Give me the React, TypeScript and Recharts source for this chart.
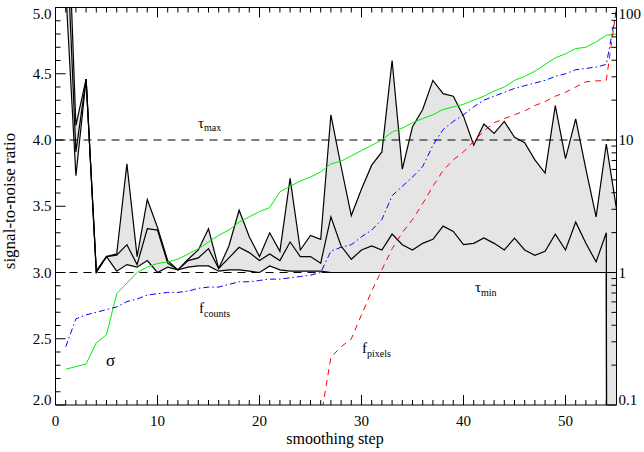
import { ComposedChart, Area, Line, XAxis, YAxis, ReferenceLine } from "recharts";

const FONT = "'Liberation Serif', 'Times New Roman', serif";
const TOP = 7.5;

// smoothing steps
const steps = Array.from({ length: 55 }, (_, i) => i + 1);

// signal-to-noise per step: max, mean, min (left axis)
const snrMax = [
  6.2, 4.11, 4.46, 3.01, 3.12, 3.14, 3.82, 3.12, 3.55, 3.34,
  3.09, 3.02, 3.1, 3.17, 3.33, 3.03, 3.2, 3.47, 3.27, 3.12,
  3.3, 3.16, 3.71, 3.17, 3.28, 3.25, 4.19, 3.8, 3.43, 3.63,
  3.81, 3.91, 4.6, 3.78, 4.1, 4.23, 4.45, 4.35, 4.33, 4.18,
  3.96, 4.12, 4.05, 4.14, 4.02, 3.98, 3.85, 3.75, 4.26, 3.86,
  4.16, 3.78, 3.42, 3.97, 3.48,
];
const snrMean = [
  5.7, 3.91, 4.46, 3.01, 3.12, 3.13, 3.21, 3.06, 3.33, 3.32,
  3.07, 3.02, 3.09, 3.11, 3.18, 3.03, 3.11, 3.19, 3.15, 3.09,
  3.14, 3.09, 3.23, 3.12, 3.12, 3.07, 3.42, 3.2, 3.1, 3.17,
  3.2, 3.17, 3.29, 3.21, 3.17, 3.22, 3.25, 3.35, 3.31, 3.21,
  3.22, 3.26, 3.22, 3.17, 3.26, 3.17, 3.13, 3.16, 3.29, 3.17,
  3.38, 3.22, 3.08, 3.3, -50,
];
const snrMin = [
  5.14, 3.73, 4.46, 3.0, 3.12, 3.01, 3.06, 3.04, 3.09, 3.0,
  3.04, 3.02, 3.04, 3.05, 3.05, 3.01, 3.02, 3.02, 3.01, 3.0,
  3.05, 3.02, 3.01, 3.01, 3.01, 3.01, 3.0, 3.0, 3.0, 3.0,
  3.0, 3.0, 3.0, 3.0, 3.0, 3.0, 3.0, 3.0, 3.0, 3.0,
  3.0, 3.0, 3.0, 3.0, 3.0, 3.0, 3.0, 3.0, 3.0, 3.0,
  3.0, 3.0, 3.0, 3.0, -50,
];

// right axis (log): sigma, f_counts, f_pixels
const sigma = [
  0.186, 0.195, 0.204, 0.295, 0.339, 0.692, 0.832, 1.0, 1.1, 1.17,
  1.2, 1.26, 1.38, 1.51, 1.7, 1.91, 2.09, 2.4, 2.63, 2.88,
  3.09, 4.07, 4.47, 4.9, 5.25, 5.75, 6.61, 6.92, 7.59, 8.32,
  9.12, 10.0, 11.5, 12.3, 13.5, 14.5, 15.5, 17.0, 17.8, 18.6,
  20.0, 21.4, 23.4, 25.1, 28.2, 30.2, 33.1, 37.2, 41.7, 44.7,
  49.0, 50.1, 55.0, 61.7, 63.1,
];
const fCounts = [
  0.275, 0.447, 0.479, 0.501, 0.525, 0.55, 0.603, 0.631, 0.676, 0.692,
  0.708, 0.708, 0.724, 0.759, 0.776, 0.776, 0.813, 0.851, 0.851, 0.871,
  0.891, 0.891, 0.912, 0.933, 0.955, 1.0, 1.45, 1.55, 1.62, 1.86,
  2.09, 2.51, 3.8, 4.47, 5.25, 6.31, 9.12, 12.0, 13.8, 15.5,
  17.8, 20.0, 21.4, 22.9, 24.5, 25.7, 26.9, 28.2, 30.2, 31.6,
  33.9, 34.7, 35.5, 37.2, 95.5,
];
const fPixels = [
  ...Array(25).fill(null),
  0.079, 0.229, 0.275, 0.316, 0.479, 0.724, 1.05, 1.51, 2.0, 2.51,
  3.31, 4.47, 5.89, 7.08, 8.13, 9.77, 11.7, 13.5, 14.5, 15.5,
  16.6, 18.2, 19.5, 21.4, 22.9, 25.1, 27.5, 27.9, 28.2, 100,
];

const xTicks = Array.from({ length: 56 }, (_, i) => i);
const xLabels = [0, 10, 20, 30, 40, 50];
const leftTicks = Array.from({ length: 31 }, (_, i) => (20 + i) / 10);
const leftLabels = [2, 2.5, 3, 3.5, 4, 4.5, 5];
const rightTicks = [
  0.1, 0.2, 0.3, 0.4, 0.5, 0.6, 0.7, 0.8, 0.9,
  1, 2, 3, 4, 5, 6, 7, 8, 9,
  10, 20, 30, 40, 50, 60, 70, 80, 90, 100,
];
const rightLabels = [0.1, 1, 10, 100];

const rows = steps.map((s, i) => ({
  step: s,
  band: [snrMin[i], snrMax[i]],
  max: snrMax[i],
  mean: snrMean[i],
  min: snrMin[i],
  sigma: sigma[i],
  fCounts: fCounts[i],
  fPixels: fPixels[i],
}));

const XTick = (props: any) => {
  const { x, y, payload } = props;
  const major = xLabels.includes(payload.value);
  const len = major ? 10 : 5;
  return (
    <g>
      <line x1={x} y1={y} x2={x} y2={y - len} stroke="#000" />
      <line x1={x} y1={TOP} x2={x} y2={TOP + len} stroke="#000" />
      {major && (
        <text x={x} y={y + 21} textAnchor="middle" fontSize={15} fontFamily={FONT} fill="#000">
          {payload.value}
        </text>
      )}
    </g>
  );
};

const LeftTick = (props: any) => {
  const { x, y, payload } = props;
  const v = payload.value;
  const major = leftLabels.includes(v);
  const len = major ? 10 : 5;
  const dy = v === 5 ? 11 : v === 2 ? 0 : 5;
  return (
    <g>
      <line x1={x} y1={y} x2={x + len} y2={y} stroke="#000" />
      {major && (
        <text x={x - 4} y={y + dy} textAnchor="end" fontSize={15} fontFamily={FONT} fill="#000">
          {v.toFixed(1)}
        </text>
      )}
    </g>
  );
};

const RightTick = (props: any) => {
  const { x, y, payload } = props;
  const v = payload.value;
  const major = rightLabels.includes(v);
  const len = major ? 10 : 5;
  const dy = v === 100 ? 11 : v === 0.1 ? 0 : 5;
  return (
    <g>
      <line x1={x} y1={y} x2={x - len} y2={y} stroke="#000" />
      {major && (
        <text x={x + 2} y={y + dy} textAnchor="start" fontSize={15} fontFamily={FONT} fill="#000">
          {String(v)}
        </text>
      )}
    </g>
  );
};

export default function App() {
  return (
    <div style={{ position: "absolute", left: 0, top: 0, width: 644, height: 452, background: "#fff" }}>
      <ComposedChart
        width={644}
        height={452}
        data={rows}
        margin={{ top: TOP, right: 0, bottom: 0, left: 0 }}
      >
        <XAxis
          dataKey="step"
          type="number"
          domain={[0, 55]}
          ticks={xTicks}
          interval={0}
          allowDataOverflow
          height={47}
          tickSize={0}
          tickMargin={0}
          tickLine={false}
          axisLine={{ stroke: "#000" }}
          tick={(p: any) => <XTick {...p} />}
        />
        <YAxis
          yAxisId="left"
          type="number"
          domain={[2, 5]}
          ticks={leftTicks}
          interval={0}
          allowDataOverflow
          width={55.5}
          tickSize={0}
          tickMargin={0}
          tickLine={false}
          axisLine={{ stroke: "#000" }}
          tick={(p: any) => <LeftTick {...p} />}
        />
        <YAxis
          yAxisId="right"
          orientation="right"
          type="number"
          scale="log"
          domain={[0.1, 100]}
          ticks={rightTicks}
          interval={0}
          allowDataOverflow
          width={27.5}
          tickSize={0}
          tickMargin={0}
          tickLine={false}
          axisLine={{ stroke: "#000" }}
          tick={(p: any) => <RightTick {...p} />}
        />
        <Area
          yAxisId="left"
          dataKey="band"
          fill="#e5e5e5"
          fillOpacity={1}
          stroke="none"
          isAnimationActive={false}
        />
        <ReferenceLine yAxisId="left" y={5} stroke="#000" strokeWidth={1} />
        <ReferenceLine yAxisId="left" y={4} stroke="#000" strokeWidth={1.2} strokeDasharray="8 6" />
        <ReferenceLine yAxisId="left" y={3} stroke="#000" strokeWidth={1.2} strokeDasharray="8 6" />
        <Line yAxisId="left" dataKey="max" stroke="#000" strokeWidth={1.2} dot={false} activeDot={false} isAnimationActive={false} />
        <Line yAxisId="left" dataKey="mean" stroke="#000" strokeWidth={1.2} dot={false} activeDot={false} isAnimationActive={false} />
        <Line yAxisId="left" dataKey="min" stroke="#000" strokeWidth={1.2} dot={false} activeDot={false} isAnimationActive={false} />
        <Line yAxisId="right" dataKey="sigma" stroke="#00ee00" strokeWidth={1} dot={false} activeDot={false} isAnimationActive={false} />
        <Line yAxisId="right" dataKey="fCounts" stroke="#0000ff" strokeWidth={1} strokeDasharray="6 3 1.5 3" dot={false} activeDot={false} isAnimationActive={false} />
        <Line yAxisId="right" dataKey="fPixels" stroke="#ff0000" strokeWidth={1} strokeDasharray="6 5" dot={false} activeDot={false} isAnimationActive={false} />
      </ComposedChart>
      <svg
        width={644}
        height={452}
        style={{ position: "absolute", left: 0, top: 0, pointerEvents: "none" }}
        fontFamily={FONT}
        fill="#000"
      >
        <text x={198} y={128} fontSize={15}>
          τ<tspan fontSize={10} dy={3}>max</tspan>
        </text>
        <text x={475} y={292} fontSize={15}>
          τ<tspan fontSize={10} dy={4}>min</tspan>
        </text>
        <text x={199} y={313} fontSize={15}>
          f<tspan fontSize={10} dy={3.5}>counts</tspan>
        </text>
        <text x={362} y={353} fontSize={15}>
          f<tspan fontSize={10} dy={4}>pixels</tspan>
        </text>
        <text x={106} y={366} fontSize={17}>σ</text>
        <text x={335} y={444} fontSize={16} textAnchor="middle">smoothing step</text>
        <text x={15} y={201} fontSize={17} textAnchor="middle" transform="rotate(-90 15 201)">
          signal-to-noise ratio
        </text>
      </svg>
    </div>
  );
}
